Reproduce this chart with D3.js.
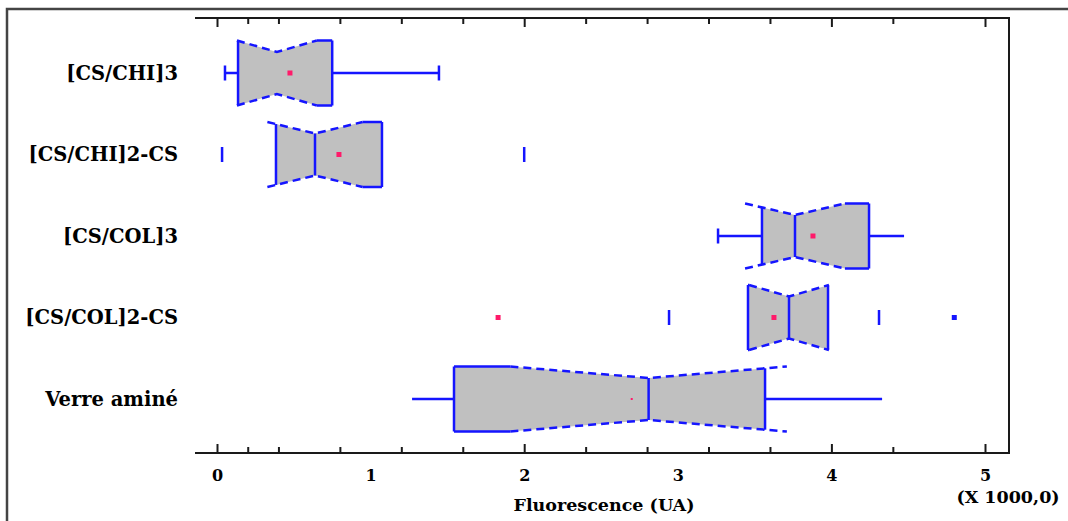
<!DOCTYPE html>
<html>
<head>
<meta charset="utf-8">
<script src="https://cdn.jsdelivr.net/npm/d3@7"></script>
<style>
  html, body { margin: 0; padding: 0; background: #fff; }
  svg { display: block; }
  text { font-family: "DejaVu Serif", "Liberation Serif", serif; font-weight: bold; fill: #000; }
</style>
</head>
<body>
<svg id="chart" width="1068" height="521"></svg>
<script>
// ---- data (values in thousands of UA) ----
const categories = ["[CS/CHI]3", "[CS/CHI]2-CS", "[CS/COL]3", "[CS/COL]2-CS", "Verre aminé"];
const q1Values     = [0.137, 0.384, 3.548, 3.457, 1.543];
const medianValues = [0.390, 0.638, 3.763, 3.724, 2.810];
const q3Values     = [0.750, 1.074, 4.245, 3.978, 3.568];
const meanValues   = [0.475, 0.794, 3.880, 3.626, 2.700];
const notchHalf    = [0.260, 0.310, 0.325, 0.260, 0.900];
const whiskerLow   = [0.052, null, 3.262, null, 1.270];
const whiskerHigh  = [1.445, null, 4.473, null, 4.330];
// points drawn as short vertical marks: [row, value]
const tickPoints   = [[0, 0.052], [0, 1.445], [1, 0.033], [1, 2.000], [2, 3.262], [3, 2.943], [3, 4.310]];
// far outside point (blue square) and extra pink point
const farPoints    = [[3, 4.800]];
const pinkPoints   = [[3, 1.830]];
const axisTicks    = [0, 0.2, 0.4, 0.8, 1.2, 1.6, 2, 2.4, 2.8, 3.2, 3.6, 4, 4.4, 5];
const majorTicks   = [0, 2, 4, 5];
const tickLabels   = [0, 1, 2, 3, 4, 5];
const xTitle = "Fluorescence (UA)";
const xMultiplier = "(X 1000,0)";

// ---- layout ----
const svg = d3.select("#chart");
const plot = { left: 195, right: 1009, top: 18, bottom: 453 };
const x = d3.scaleLinear().domain([0, 5]).range([217, 985]);
const y = d3.scalePoint().domain(categories).range([73, 399]);
const H = 32.5;   // half box height
const N = 21;     // half height at notch waist
const BLUE = "#1515ff";
const PINK = "#ff1a6a";

// outer frame
svg.append("path")
  .attr("d", "M7,530 L7,9 L1075,9")
  .attr("fill", "none").attr("stroke", "#444").attr("stroke-width", 2.5);

// plot frame (top, right, bottom)
svg.append("path")
  .attr("d", `M${plot.left},${plot.top} L${plot.right},${plot.top} L${plot.right},${plot.bottom} L${plot.left},${plot.bottom}`)
  .attr("fill", "none").attr("stroke", "#1a1a1a").attr("stroke-width", 2);

function addTicks(axisGen, ty, vals, size) {
  const g = svg.append("g").attr("transform", `translate(0,${ty})`)
    .call(axisGen(x).tickValues(vals).tickSize(size).tickFormat(""));
  g.select(".domain").remove();
  g.selectAll(".tick line").attr("stroke", "#1a1a1a").attr("stroke-width", 2);
}
const minorVals = axisTicks.filter(v => !majorTicks.includes(v));
addTicks(d3.axisBottom, plot.bottom, minorVals, -6);
addTicks(d3.axisBottom, plot.bottom, majorTicks, -9);
addTicks(d3.axisTop, plot.top, minorVals, -6);
addTicks(d3.axisTop, plot.top, majorTicks, -9);

// tick labels
const lab = svg.append("g").attr("transform", `translate(0,${plot.bottom})`)
  .call(d3.axisBottom(x).tickValues(tickLabels).tickSize(0).tickPadding(17).tickFormat(d3.format("d")));
lab.select(".domain").remove();
lab.selectAll("text").attr("font-size", 16).attr("font-family", "DejaVu Serif").attr("font-weight", "bold").attr("fill", "#000");

svg.append("text").attr("x", 604).attr("y", 511).attr("text-anchor", "middle")
  .attr("font-size", 17.5).text(xTitle);
svg.append("text").attr("x", 1008).attr("y", 503).attr("text-anchor", "middle")
  .attr("font-size", 17.5).text(xMultiplier);

// category labels
svg.append("g").selectAll("text").data(categories).join("text")
  .attr("x", 178).attr("y", d => y(d)).attr("dy", "0.35em")
  .attr("text-anchor", "end").attr("font-size", 19.5).text(d => d);

// ---- notched boxes ----
categories.forEach((cat, i) => {
  const cy = y(cat);
  const q1 = q1Values[i], q3 = q3Values[i], med = medianValues[i], c = notchHalf[i];
  const hh = v => {
    const d = Math.abs(v - med);
    return d >= c ? H : N + (H - N) * d / c;
  };
  const g = svg.append("g");

  // whisker lines
  if (whiskerLow[i] != null) {
    g.append("line").attr("x1", x(whiskerLow[i])).attr("x2", x(q1)).attr("y1", cy).attr("y2", cy)
      .attr("stroke", BLUE).attr("stroke-width", 2.5);
  }
  if (whiskerHigh[i] != null) {
    g.append("line").attr("x1", x(q3)).attr("x2", x(whiskerHigh[i])).attr("y1", cy).attr("y2", cy)
      .attr("stroke", BLUE).attr("stroke-width", 2.5);
  }

  // fill polygon
  const bps = [q1, med - c, med, med + c, q3].filter(v => v >= q1 && v <= q3).sort((a, b) => a - b);
  const top = bps.map(v => [x(v), cy - hh(v)]);
  const bot = bps.slice().reverse().map(v => [x(v), cy + hh(v)]);
  g.append("path").attr("d", d3.line()([...top, ...bot]) + "Z")
    .attr("fill", "#c0c0c0").attr("stroke", "none");

  // solid outline parts
  const solid = [];
  solid.push([[x(q1), cy - hh(q1)], [x(q1), cy + hh(q1)]]);
  solid.push([[x(q3), cy - hh(q3)], [x(q3), cy + hh(q3)]]);
  if (med - c > q1) {
    solid.push([[x(q1), cy - H], [x(med - c), cy - H]]);
    solid.push([[x(q1), cy + H], [x(med - c), cy + H]]);
  }
  if (med + c < q3) {
    solid.push([[x(med + c), cy - H], [x(q3), cy - H]]);
    solid.push([[x(med + c), cy + H], [x(q3), cy + H]]);
  }
  if (i !== 0) solid.push([[x(med), cy - N], [x(med), cy + N]]);
  solid.forEach(s => g.append("path").attr("d", d3.line()(s))
    .attr("fill", "none").attr("stroke", BLUE).attr("stroke-width", 2.5));

  // dashed notch lines
  [-1, 1].forEach(sgn => {
    const pts = [[x(med - c), cy + sgn * H], [x(med), cy + sgn * N], [x(med + c), cy + sgn * H]];
    g.append("path").attr("d", d3.line()(pts))
      .attr("fill", "none").attr("stroke", BLUE).attr("stroke-width", 2.5)
      .attr("stroke-dasharray", "8,5");
  });

  // mean
  const ms = i === 4 ? 2 : 5;
  g.append("rect").attr("x", x(meanValues[i]) - ms / 2).attr("y", cy - ms / 2)
    .attr("width", ms).attr("height", ms).attr("fill", PINK);
});

// vertical mark points
svg.append("g").selectAll("line").data(tickPoints).join("line")
  .attr("x1", d => x(d[1])).attr("x2", d => x(d[1]))
  .attr("y1", d => y(categories[d[0]]) - 7.5).attr("y2", d => y(categories[d[0]]) + 7.5)
  .attr("stroke", BLUE).attr("stroke-width", 2.5);

svg.append("g").selectAll("rect").data(farPoints).join("rect")
  .attr("x", d => x(d[1]) - 2.5).attr("y", d => y(categories[d[0]]) - 2.5)
  .attr("width", 5).attr("height", 5).attr("fill", BLUE);

svg.append("g").selectAll("rect").data(pinkPoints).join("rect")
  .attr("x", d => x(d[1]) - 2.5).attr("y", d => y(categories[d[0]]) - 2.5)
  .attr("width", 5).attr("height", 5).attr("fill", PINK);
</script>
</body>
</html>
